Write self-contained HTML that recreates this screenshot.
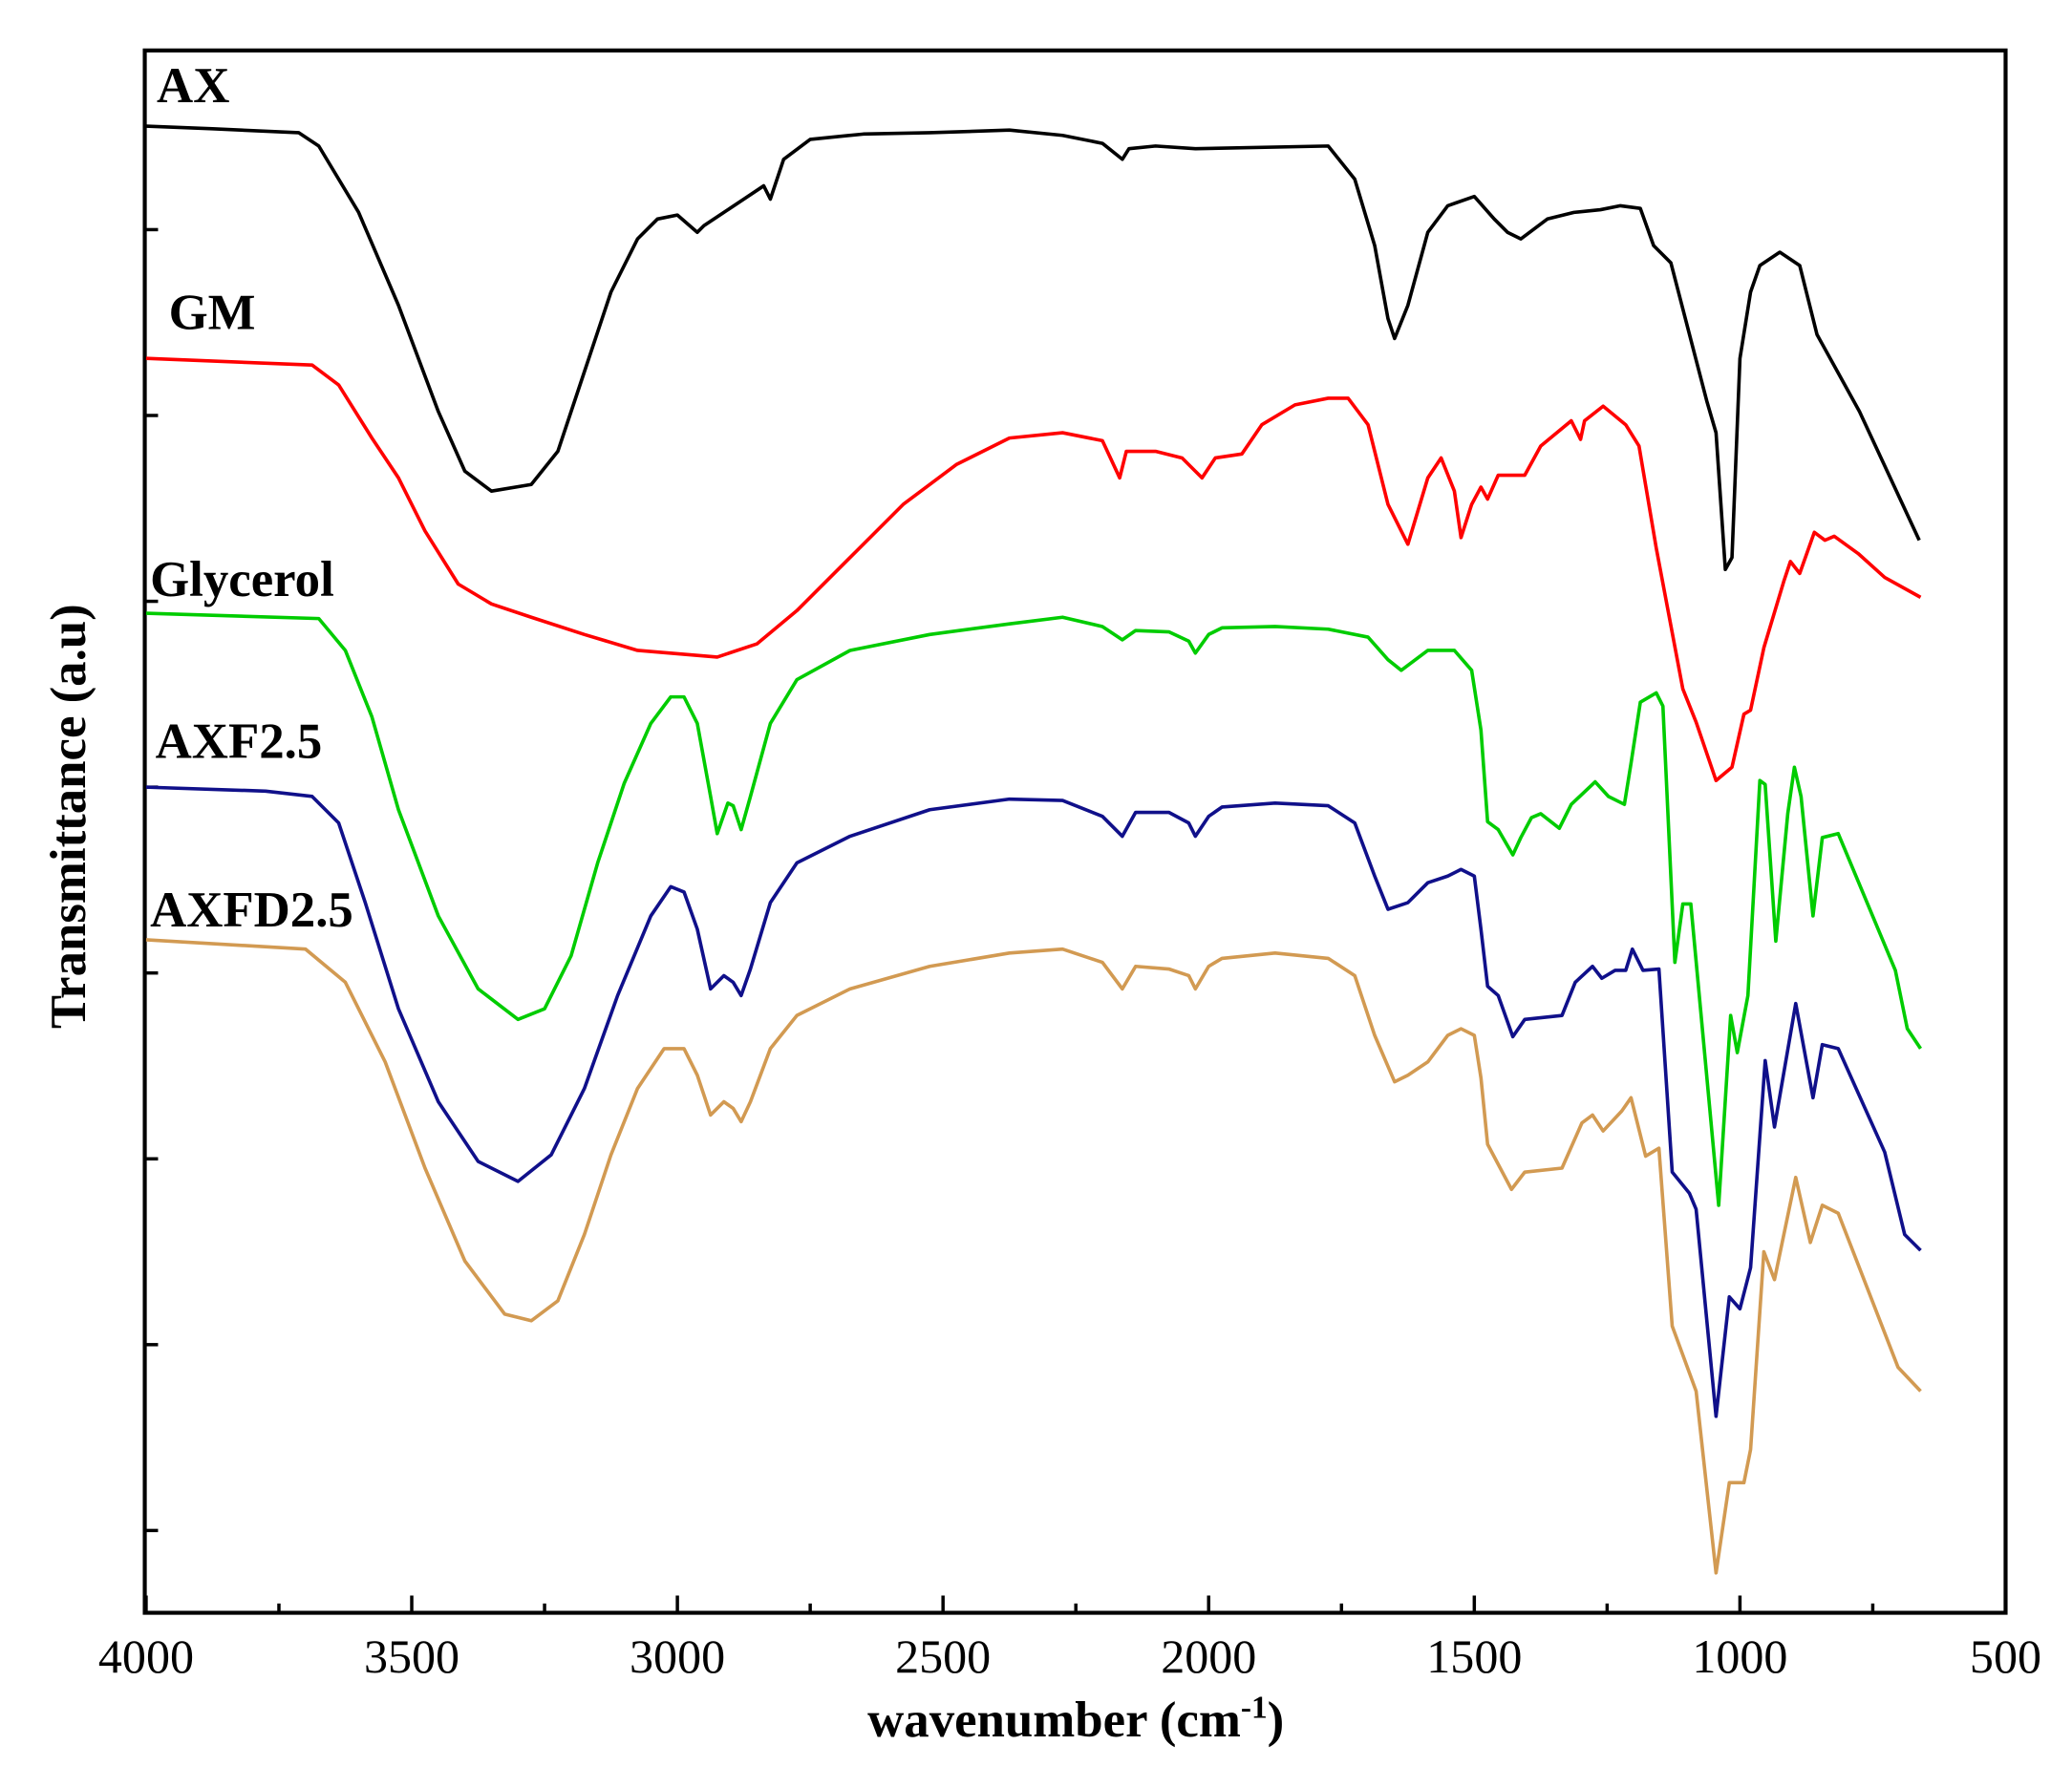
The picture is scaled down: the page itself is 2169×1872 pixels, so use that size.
<!DOCTYPE html>
<html><head><meta charset="utf-8"><style>
html,body{margin:0;padding:0;background:#fff;}
svg{display:block;}
text{font-family:"Liberation Serif",serif;font-weight:bold;fill:#000;}
</style></head><body>
<svg width="2169" height="1872" viewBox="0 0 1560 1347" preserveAspectRatio="none" xmlns="http://www.w3.org/2000/svg">
<rect x="0" y="0" width="1560" height="1347" fill="#fff"/>
<rect x="109" y="38" width="1401" height="1177" fill="none" stroke="#000" stroke-width="3"/>
<g stroke="#000" stroke-width="2.5">
<line x1="110" y1="1215" x2="110" y2="1202"/><line x1="310" y1="1215" x2="310" y2="1202"/><line x1="510" y1="1215" x2="510" y2="1202"/><line x1="710" y1="1215" x2="710" y2="1202"/><line x1="910" y1="1215" x2="910" y2="1202"/><line x1="1110" y1="1215" x2="1110" y2="1202"/><line x1="1310" y1="1215" x2="1310" y2="1202"/>
<line x1="210" y1="1215" x2="210" y2="1208"/><line x1="410" y1="1215" x2="410" y2="1208"/><line x1="610" y1="1215" x2="610" y2="1208"/><line x1="810" y1="1215" x2="810" y2="1208"/><line x1="1010" y1="1215" x2="1010" y2="1208"/><line x1="1210" y1="1215" x2="1210" y2="1208"/><line x1="1410" y1="1215" x2="1410" y2="1208"/>
<line x1="109" y1="173" x2="119" y2="173"/><line x1="109" y1="313" x2="119" y2="313"/><line x1="109" y1="453" x2="119" y2="453"/><line x1="109" y1="593" x2="119" y2="593"/><line x1="109" y1="733" x2="119" y2="733"/><line x1="109" y1="873" x2="119" y2="873"/><line x1="109" y1="1013" x2="119" y2="1013"/><line x1="109" y1="1153" x2="119" y2="1153"/>
</g>
<g font-size="36" text-anchor="middle" style="font-weight:normal">
<text x="110" y="1260" style="font-weight:normal">4000</text><text x="310" y="1260" style="font-weight:normal">3500</text><text x="510" y="1260" style="font-weight:normal">3000</text><text x="710" y="1260" style="font-weight:normal">2500</text><text x="910" y="1260" style="font-weight:normal">2000</text><text x="1110" y="1260" style="font-weight:normal">1500</text><text x="1310" y="1260" style="font-weight:normal">1000</text><text x="1510" y="1260" style="font-weight:normal">500</text>
</g>
<text x="810" y="1308" font-size="38" text-anchor="middle">wavenumber (cm<tspan dy="-14" font-size="24">-1</tspan><tspan dy="14">)</tspan></text>
<text x="0" y="0" font-size="38" text-anchor="middle" transform="translate(64,615) rotate(-90)">Transmittance (a.u)</text>
<g font-size="38">
<text x="118" y="77">AX</text>
<text x="127" y="248">GM</text>
<text x="113" y="449">Glycerol</text>
<text x="117" y="571">AXF2.5</text>
<text x="113" y="698">AXFD2.5</text>
</g>
<g fill="none" stroke-width="2.6" stroke-linejoin="round">
<polyline stroke="#000" points="110,95 160,97 225,100 240,110 270,160 300,230 330,310 350,355 370,370 400,365 420,340 440,280 460,220 480,180 495,165 510,162 525,175 530,170 545,160 560,150 575,140 580,150 590,120 610,105 650,101 700,100 760,98 800,102 830,108 845,120 850,112 870,110 900,112 1000,110 1020,135 1035,185 1045,240 1050,255 1060,230 1075,175 1090,155 1110,148 1125,165 1135,175 1145,180 1165,165 1185,160 1205,158 1220,155 1235,157 1245,185 1258,198 1272,252 1285,302 1292,326 1299,429 1304,420 1310,270 1318,220 1325,200 1340,190 1355,200 1368,252 1400,310 1445,407"/>
<polyline stroke="#ff0000" points="110,270 235,275 255,290 280,330 300,360 320,400 345,440 370,455 400,465 440,478 480,490 540,495 570,485 600,460 640,420 680,380 720,350 760,330 800,326 830,332 843,360 848,340 870,340 890,345 900,355 905,360 915,345 935,342 950,320 975,305 1000,300 1015,300 1030,320 1045,380 1060,410 1075,360 1085,345 1095,370 1100,405 1108,380 1115,367 1120,376 1128,358 1148,358 1160,336 1183,317 1190,331 1193,317 1207,306 1224,320 1234,336 1247,413 1267,519 1277,544 1292,588 1304,578 1313,538 1318,535 1328,488 1343,438 1348,423 1355,432 1366,401 1374,407 1381,404 1399,417 1419,435 1446,450"/>
<polyline stroke="#00cc00" points="110,462 240,466 260,490 280,540 300,610 330,690 360,745 390,768 410,760 430,720 450,650 470,590 490,545 505,525 515,525 525,545 535,600 540,628 548,605 552,607 558,625 565,600 580,545 600,512 640,490 700,478 760,470 800,465 830,472 845,482 855,475 880,476 895,483 900,492 910,478 920,473 960,472 1000,474 1030,480 1045,497 1055,505 1075,490 1095,490 1108,505 1115,550 1120,619 1128,625 1139,644 1145,631 1153,616 1160,613 1174,624 1183,606 1201,589 1211,600 1223,606 1228,575 1235,529 1247,522 1252,532 1261,725 1267,681 1273,681 1294,908 1303,765 1308,793 1316,750 1325,588 1329,591 1337,709 1346,613 1351,578 1356,600 1365,690 1372,631 1384,628 1427,731 1436,775 1446,790"/>
<polyline stroke="#10108a" points="110,593 200,596 235,600 255,620 275,680 300,760 330,830 360,875 390,890 415,870 440,820 465,750 490,690 505,668 515,672 525,700 535,745 545,735 552,740 558,750 565,730 580,680 600,650 640,630 700,610 760,602 800,603 830,615 845,630 855,612 880,612 895,620 900,630 910,615 920,608 960,605 1000,607 1020,620 1035,660 1045,685 1060,680 1075,665 1090,660 1100,655 1110,660 1115,700 1120,743 1128,750 1139,781 1148,768 1176,765 1186,740 1199,728 1206,737 1216,731 1224,731 1229,715 1237,731 1249,730 1259,883 1272,899 1277,911 1292,1067 1302,977 1310,986 1318,955 1329,799 1336,849 1352,756 1365,827 1372,787 1384,790 1419,868 1434,930 1446,942"/>
<polyline stroke="#d29a52" points="110,708 230,715 260,740 290,800 320,880 350,950 380,990 400,995 420,980 440,930 460,870 480,820 500,790 515,790 525,810 535,840 545,830 552,835 558,845 565,830 580,790 600,765 640,745 700,728 760,718 800,715 830,725 845,745 855,728 880,730 895,735 900,745 910,728 920,722 960,718 1000,722 1020,735 1035,780 1050,815 1060,810 1075,800 1090,780 1100,775 1110,780 1115,812 1120,862 1138,896 1148,883 1176,880 1191,846 1199,840 1207,852 1221,837 1228,827 1239,871 1249,865 1259,999 1277,1048 1292,1185 1302,1117 1313,1117 1318,1092 1328,943 1336,964 1352,887 1363,936 1372,908 1384,914 1429,1030 1446,1048"/>
</g>
</svg>
</body></html>
